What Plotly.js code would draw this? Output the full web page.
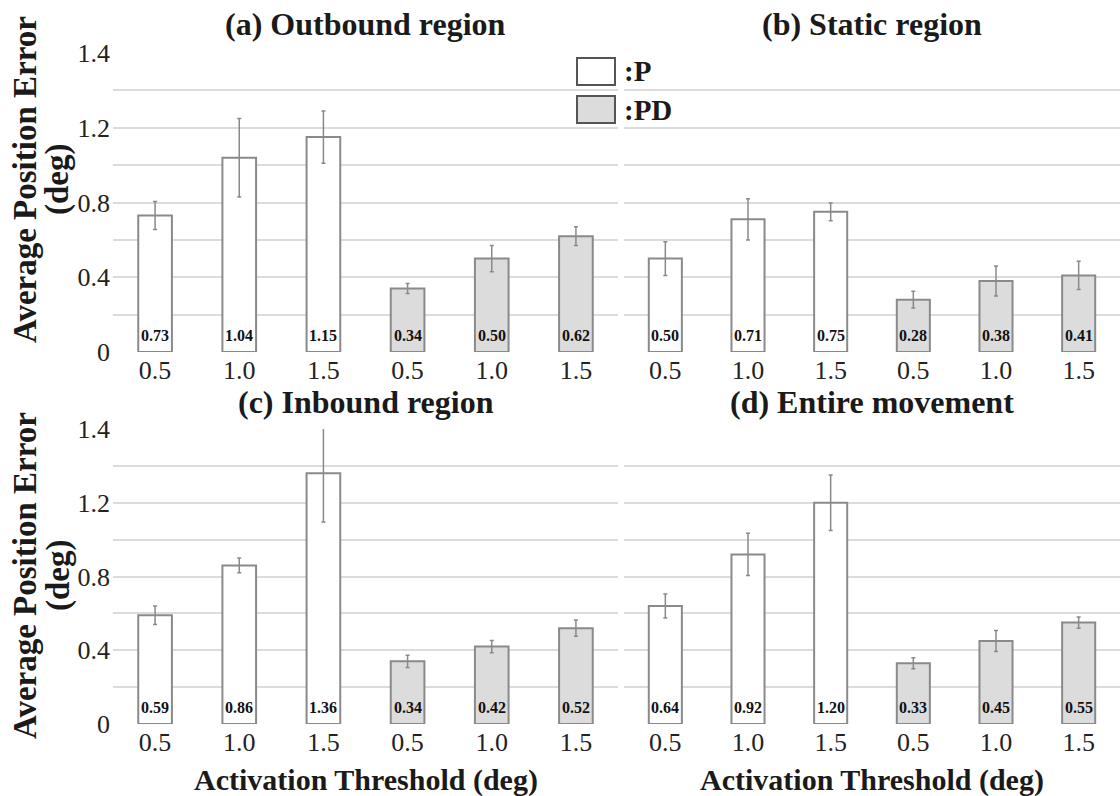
<!DOCTYPE html>
<html>
<head>
<meta charset="utf-8">
<script src="https://cdn.plot.ly/plotly-3.0.1.min.js"></script>
<style>
  html, body { margin: 0; padding: 0; background: #ffffff; }
  #chart { width: 1120px; height: 796px; }
</style>
</head>
<body>
<div id="chart"></div>
<script>
// Activation thresholds shown under each group of bars (deg)
const thresholds = ['0.5', '1.0', '1.5'];

// Panel titles
const panelTitles = ['(a) Outbound region', '(b) Static region', '(c) Inbound region', '(d) Entire movement'];

// Average position error (deg) for the P controller, per panel
const pOutbound = [0.73, 1.04, 1.15];
const pStatic   = [0.50, 0.71, 0.75];
const pInbound  = [0.59, 0.86, 1.36];
const pEntire   = [0.64, 0.92, 1.20];

// Average position error (deg) for the PD controller, per panel
const pdOutbound = [0.34, 0.50, 0.62];
const pdStatic   = [0.28, 0.38, 0.41];
const pdInbound  = [0.34, 0.42, 0.52];
const pdEntire   = [0.33, 0.45, 0.55];

// Error bar half-lengths (deg)
const pOutboundErr  = [0.075, 0.21, 0.14];
const pStaticErr    = [0.09, 0.11, 0.047];
const pInboundErr   = [0.05, 0.04, 0.265];
const pEntireErr    = [0.065, 0.115, 0.15];
const pdOutboundErr = [0.027, 0.07, 0.05];
const pdStaticErr   = [0.045, 0.08, 0.075];
const pdInboundErr  = [0.033, 0.033, 0.044];
const pdEntireErr   = [0.03, 0.057, 0.03];

// Y axis gridline positions and their printed labels
const yTickVals = [0, 0.2, 0.4, 0.6, 0.8, 1.0, 1.2, 1.4, 1.6];
const yTickText = ['0', '', '0.4', '', '0.8', '', '1.2', '', '1.4'];

const legendNames = [':P', ':PD'];
const xTitle = 'Activation Threshold (deg)';
const yTitleLines = ['Average Position Error', '(deg)'];

const W = 1120, H = 796;
const fx = px => px / W;
const fy = py => 1 - py / H;

const SERIF = 'Liberation Serif';
const P_FILL = '#ffffff';
const PD_FILL = '#dcdcdc';
const EDGE = '#8a8a8a';
const GRID = '#dcdcdc';

const panels = [
  { p: pOutbound, pd: pdOutbound, pe: pOutboundErr, pde: pdOutboundErr, x: [113, 618], y: [53, 352], titleY: 24, yTitleY: 180, left: true, bottom: false },
  { p: pStatic,   pd: pdStatic,   pe: pStaticErr,   pde: pdStaticErr,   x: [624, 1120], y: [53, 352], titleY: 24, left: false, bottom: false },
  { p: pInbound,  pd: pdInbound,  pe: pInboundErr,  pde: pdInboundErr,  x: [113, 618], y: [429, 724], titleY: 402, yTitleY: 576, left: true, bottom: true },
  { p: pEntire,   pd: pdEntire,   pe: pEntireErr,   pde: pdEntireErr,   x: [624, 1120], y: [429, 724], titleY: 402, left: false, bottom: true }
];

const traces = [];
const annotations = [];
const shapes = [];
const layout = {
  width: W, height: H,
  margin: { l: 0, r: 0, t: 0, b: 0 },
  paper_bgcolor: '#ffffff',
  plot_bgcolor: 'rgba(0,0,0,0)',
  showlegend: false,
  font: { family: SERIF, color: '#222222' }
};

const catCount = thresholds.length * 2;
const tickVals = Array.from({ length: catCount }, (_, i) => i);
const tickText = thresholds.concat(thresholds);

panels.forEach((pn, k) => {
  const n = k + 1;
  const xa = n === 1 ? 'x' : 'x' + n;
  const ya = n === 1 ? 'y' : 'y' + n;
  const pX = thresholds.map((_, i) => i);
  const pdX = thresholds.map((_, i) => i + thresholds.length);

  const barCommon = {
    type: 'bar', xaxis: xa, yaxis: ya, width: 0.4, cliponaxis: false,
    hoverinfo: 'skip'
  };
  traces.push(Object.assign({}, barCommon, {
    x: pX, y: pn.p,
    marker: { color: P_FILL, line: { color: EDGE, width: 2 } },
    error_y: { type: 'data', array: pn.pe, visible: true, color: '#8a8a8a', thickness: 1.5, width: 2 }
  }));
  traces.push(Object.assign({}, barCommon, {
    x: pdX, y: pn.pd,
    marker: { color: PD_FILL, line: { color: EDGE, width: 2 } },
    error_y: { type: 'data', array: pn.pde, visible: true, color: '#8a8a8a', thickness: 1.5, width: 2 }
  }));

  const axKey = n === 1 ? '' : String(n);
  layout['xaxis' + axKey] = {
    domain: [fx(pn.x[0]), fx(pn.x[1])],
    anchor: ya,
    range: [-0.5, catCount - 0.5],
    tickmode: 'array', tickvals: tickVals, ticktext: tickText,
    showgrid: false, zeroline: false, showline: false, ticks: '',
    tickfont: { family: SERIF, size: 26, color: '#222222' },
    fixedrange: true
  };
  layout['yaxis' + axKey] = {
    domain: [fy(pn.y[1]), fy(pn.y[0])],
    anchor: xa,
    range: [0, 1.6],
    tickmode: 'array', tickvals: yTickVals, ticktext: yTickText,
    showticklabels: pn.left,
    showgrid: true, gridcolor: GRID, gridwidth: 2,
    zeroline: false, showline: false, ticks: '',
    ticklabelstandoff: 2,
    tickfont: { family: SERIF, size: 26, color: '#222222' },
    fixedrange: true
  };

  // Value labels at the foot of each bar
  pn.p.forEach((v, i) => annotations.push({
    xref: xa, yref: ya, x: pX[i], y: 0, yanchor: 'bottom', yshift: 6,
    text: '<b>' + v.toFixed(2) + '</b>', showarrow: false,
    font: { family: SERIF, size: 16, color: '#111111' }
  }));
  pn.pd.forEach((v, i) => annotations.push({
    xref: xa, yref: ya, x: pdX[i], y: 0, yanchor: 'bottom', yshift: 6,
    text: '<b>' + v.toFixed(2) + '</b>', showarrow: false,
    font: { family: SERIF, size: 16, color: '#111111' }
  }));

  // Panel title
  annotations.push({
    xref: 'paper', yref: 'paper',
    x: fx((pn.x[0] + pn.x[1]) / 2), y: fy(pn.titleY),
    xanchor: 'center', yanchor: 'middle',
    text: '<b>' + panelTitles[k] + '</b>', showarrow: false,
    font: { family: SERIF, size: 32, color: '#1a1a1a' }
  });

  // Y axis title on the left column
  if (pn.left) {
    [25, 58].forEach((cx, li) => annotations.push({
      xref: 'paper', yref: 'paper', x: fx(cx), y: fy(pn.yTitleY),
      xanchor: 'center', yanchor: 'middle', textangle: -90,
      text: '<b>' + yTitleLines[li] + '</b>', showarrow: false,
      font: { family: SERIF, size: 33, color: '#1a1a1a' }
    }));
  }

  // X axis title under the bottom row
  if (pn.bottom) {
    annotations.push({
      xref: 'paper', yref: 'paper',
      x: fx((pn.x[0] + pn.x[1]) / 2), y: fy(780),
      xanchor: 'center', yanchor: 'middle',
      text: '<b>' + xTitle + '</b>', showarrow: false,
      font: { family: SERIF, size: 30, color: '#1a1a1a' }
    });
  }
});

// Legend swatches and labels
const legendFills = [P_FILL, PD_FILL];
const legendRows = [[58, 85], [96, 123]];
legendNames.forEach((name, i) => {
  shapes.push({
    type: 'rect', xref: 'paper', yref: 'paper',
    x0: fx(577), x1: fx(615), y0: fy(legendRows[i][1]), y1: fy(legendRows[i][0]),
    fillcolor: legendFills[i], line: { color: '#555555', width: 2 }
  });
  annotations.push({
    xref: 'paper', yref: 'paper', x: fx(622), y: fy((legendRows[i][0] + legendRows[i][1]) / 2),
    xanchor: 'left', yanchor: 'middle',
    text: '<b>' + name + '</b>', showarrow: false,
    font: { family: SERIF, size: 29, color: '#1a1a1a' }
  });
});

layout.annotations = annotations;
layout.shapes = shapes;

Plotly.newPlot('chart', traces, layout, { displayModeBar: false, staticPlot: true });
</script>
</body>
</html>
